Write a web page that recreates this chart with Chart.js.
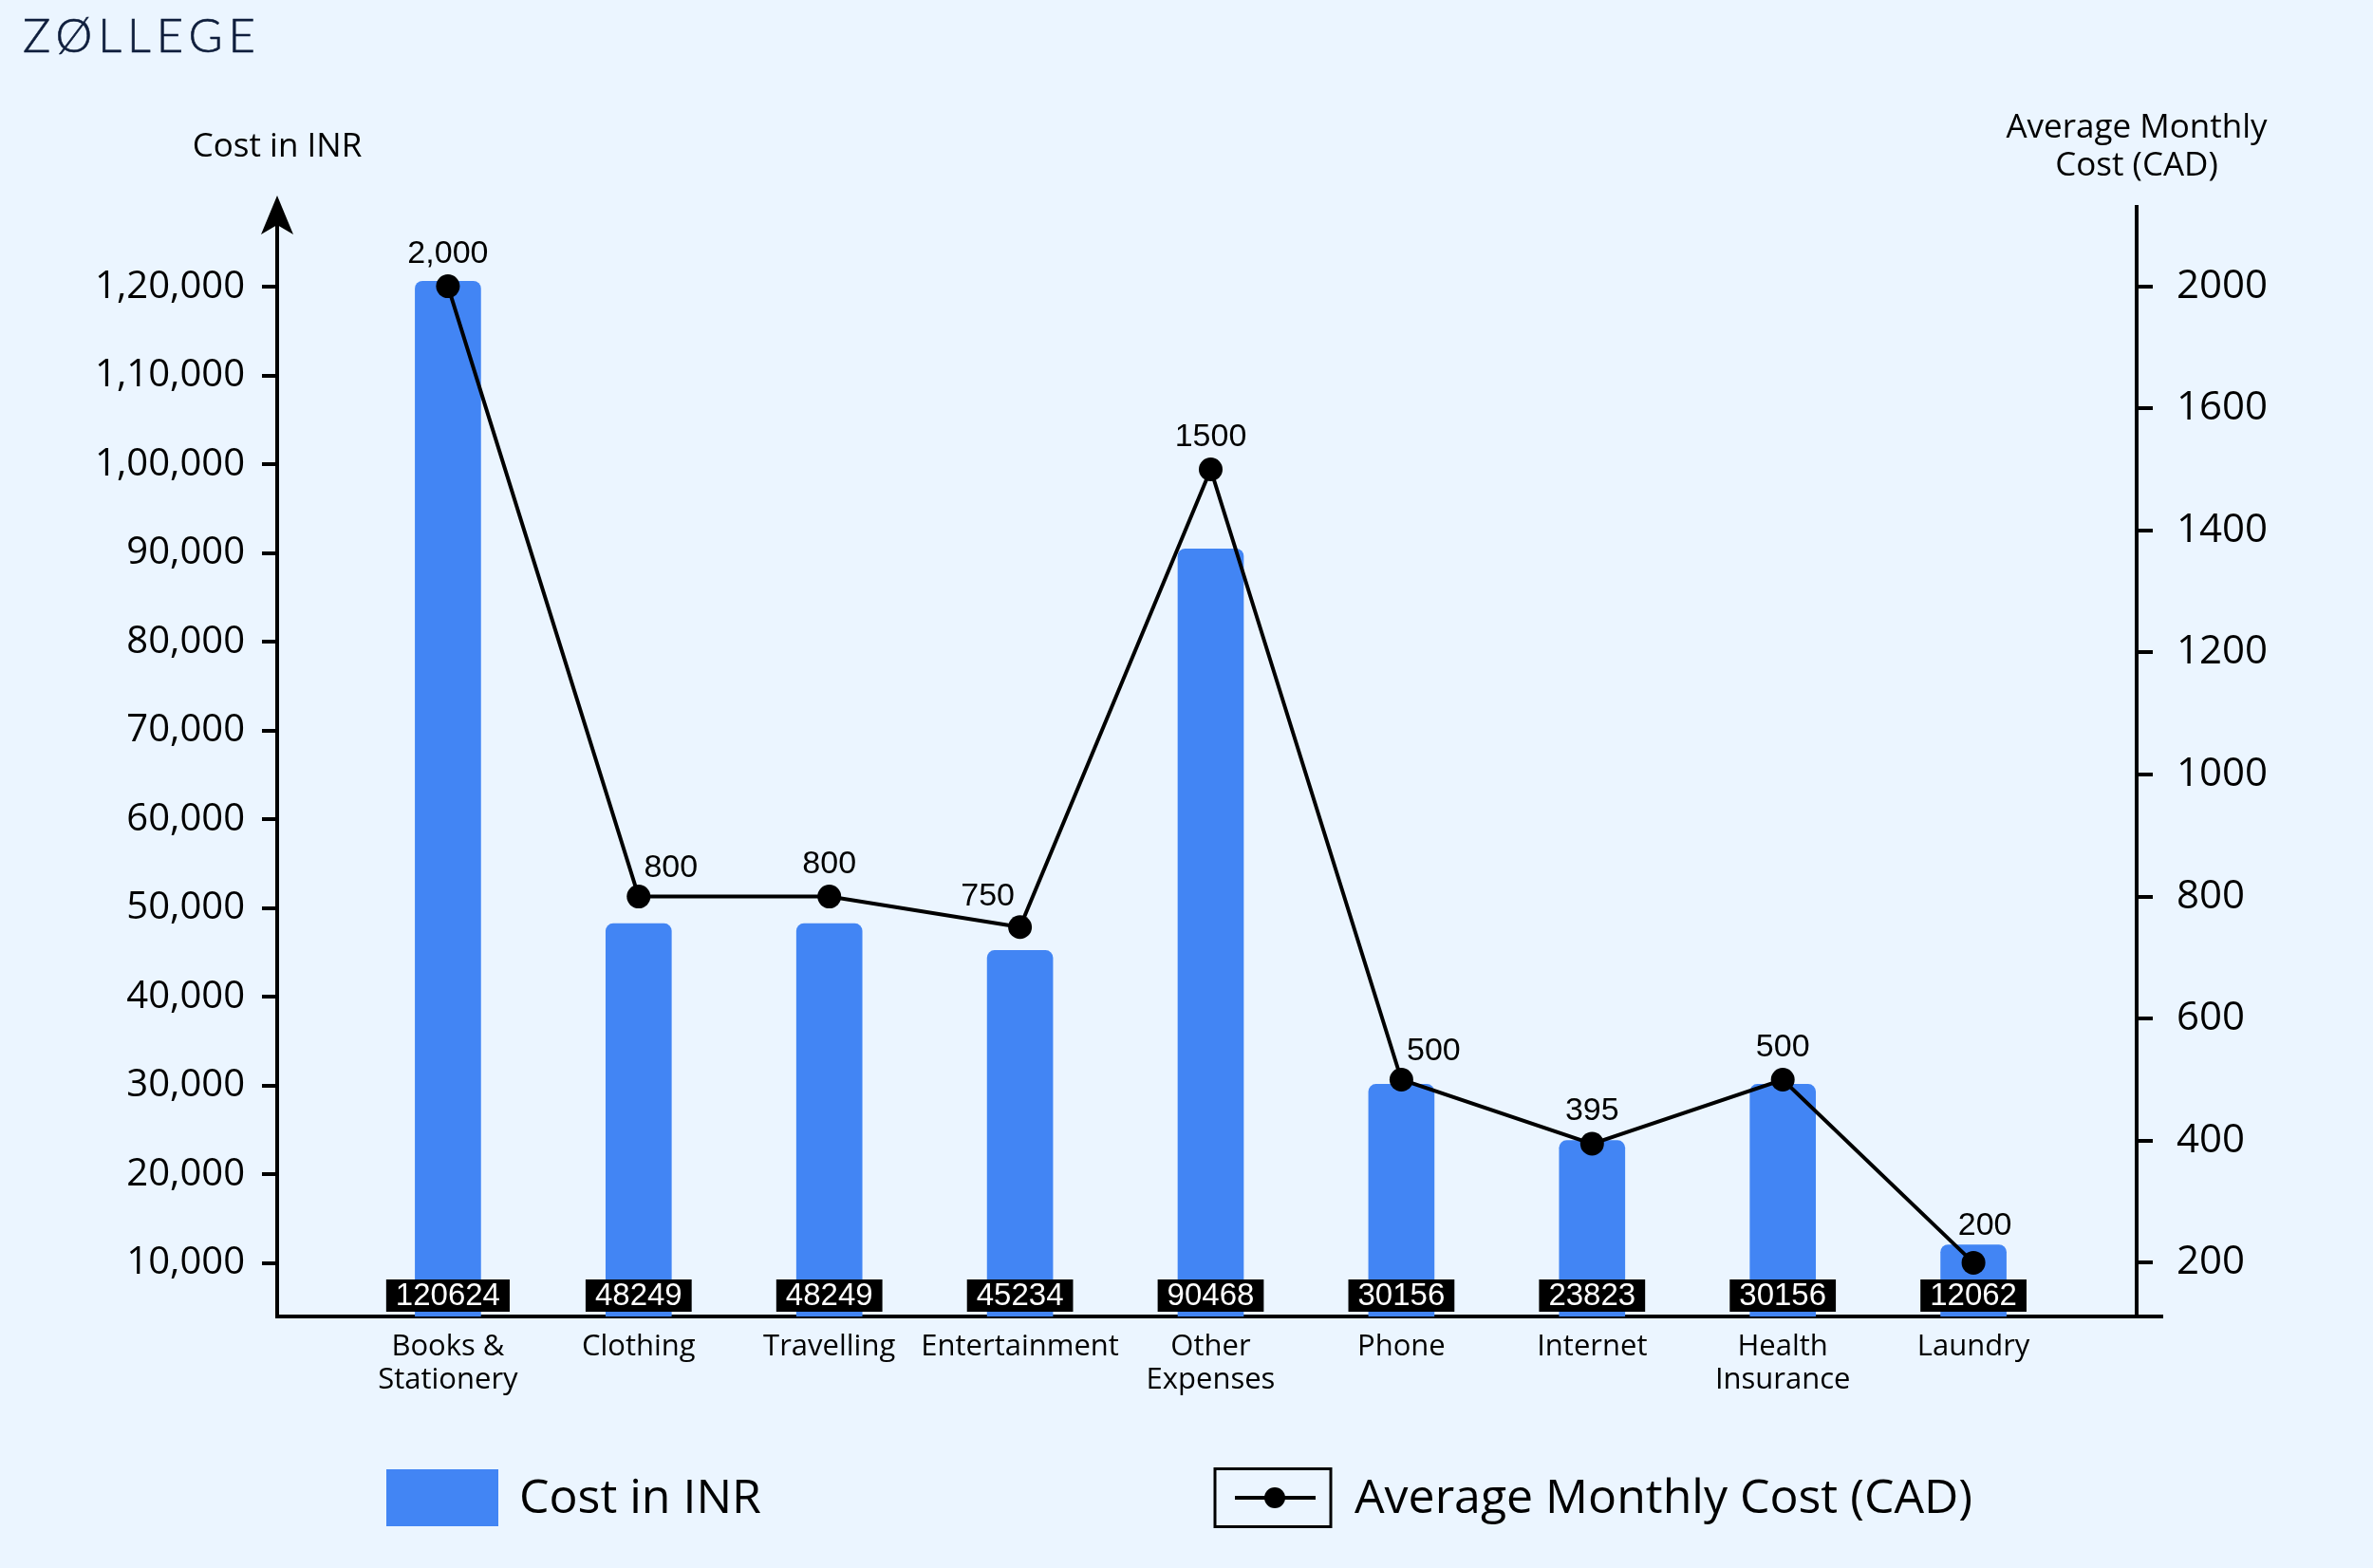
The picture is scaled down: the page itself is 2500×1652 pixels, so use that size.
<!DOCTYPE html>
<html><head><meta charset="utf-8">
<script src="https://cdn.jsdelivr.net/npm/chart.js@4.4.1/dist/chart.umd.min.js"></script>
<style>
html,body{margin:0;padding:0;background:#EBF5FF;}
#wrap{position:relative;width:2500px;height:1652px;overflow:hidden;}
canvas{position:absolute;left:0;top:0;}
#logo{position:absolute;left:24px;top:12px;font-family:Lato,'Open Sans',sans-serif;font-weight:300;font-size:49px;letter-spacing:6px;color:#0F1E3C;line-height:1;white-space:nowrap;-webkit-text-stroke:0.6px #0F1E3C;}
</style></head><body>
<div id="wrap"><canvas id="c" width="2500" height="1652"></canvas><div id="logo">ZØLLEGE</div></div>
<script>
// ---- data ----
const categories = [["Books &","Stationery"],"Clothing","Travelling","Entertainment",["Other","Expenses"],"Phone","Internet",["Health","Insurance"],"Laundry"];
const costInr = [120624,48249,48249,45234,90468,30156,23823,30156,12062];
const avgMonthlyCad = [2000,800,800,750,1500,500,395,500,200];
const cadPointLabels = ["2,000","800","800","750","1500","500","395","500","200"];
const inrTicks = [10000,20000,30000,40000,50000,60000,70000,80000,90000,100000,110000,120000];
const cadTicks = [200,400,600,800,1000,1200,1400,1600,2000];
const seriesNames = ["Cost in INR","Average Monthly Cost (CAD)"];

// ---- helpers ----
function indianFormat(n){
  const s = String(Math.round(n));
  if (s.length <= 3) return s;
  const last3 = s.slice(-3);
  let rest = s.slice(0,-3);
  const parts = [];
  while (rest.length > 2){ parts.unshift(rest.slice(-2)); rest = rest.slice(0,-2); }
  if (rest.length) parts.unshift(rest);
  return parts.join(',') + ',' + last3;
}

// right axis in the reference is compressed above 1600 (1600 -> 2000 shares one step)
const BREAK = 1600;
class BrokenLinearScale extends Chart.LinearScale {
  getPixelForValue(value){
    const v = value > BREAK ? BREAK + (value - BREAK) / 2 : value;
    return super.getPixelForValue(v);
  }
  getValueForPixel(pixel){
    const v = super.getValueForPixel(pixel);
    return v > BREAK ? BREAK + (v - BREAK) * 2 : v;
  }
}
BrokenLinearScale.id = 'brokenLinear';
BrokenLinearScale.defaults = Chart.LinearScale.defaults;
Chart.register(BrokenLinearScale);

const FONT = "'Open Sans', 'Noto Sans', sans-serif";
const NUMFONT = "'Liberation Sans', Arial, sans-serif";
const BAR_COLOR = '#4285F4';

const decor = {
  id: 'decor',
  beforeDraw(chart){
    const {ctx, width, height} = chart;
    ctx.save(); ctx.fillStyle = '#EBF5FF'; ctx.fillRect(0,0,width,height); ctx.restore();
  },
  afterDatasetsDraw(chart, args, opts){
    const ctx = chart.ctx;
    const area = chart.chartArea;
    // bar value boxes
    const barMeta = chart.getDatasetMeta(0);
    ctx.save();
    ctx.font = "33px " + NUMFONT;
    ctx.textAlign = 'center'; ctx.textBaseline = 'middle';
    barMeta.data.forEach((el, i) => {
      const txt = String(chart.data.datasets[0].data[i].y);
      const w = ctx.measureText(txt).width + 20;
      const cy = area.bottom - 22;
      ctx.fillStyle = '#000';
      ctx.fillRect(el.x - w/2, cy - 17, w, 34);
      ctx.fillStyle = '#fff';
      ctx.fillText(txt, el.x, cy + 1);
    });
    // line point labels
    const lineMeta = chart.getDatasetMeta(1);
    ctx.font = "34px " + NUMFONT;
    ctx.fillStyle = '#000';
    lineMeta.data.forEach((el, i) => {
      const p = opts.placements[i] || 'top';
      const off = opts.offsets[p];
      ctx.fillText(cadPointLabels[i], el.x + off[0], el.y + off[1]);
    });
    ctx.restore();
  },
  afterDraw(chart){
    const ctx = chart.ctx;
    const a = chart.chartArea;
    ctx.save();
    // arrow on left axis
    ctx.fillStyle = '#000';
    ctx.beginPath();
    ctx.moveTo(a.left, a.top - 12);
    ctx.lineTo(a.left + 17, a.top + 29);
    ctx.lineTo(a.left, a.top + 19);
    ctx.lineTo(a.left - 17, a.top + 29);
    ctx.closePath(); ctx.fill();
    ctx.fillRect(a.left - 2, a.top - 2, 4, 30);
    // x axis extension beyond right axis
    ctx.strokeStyle = '#000'; ctx.lineWidth = 4;
    ctx.beginPath(); ctx.moveTo(a.right, a.bottom); ctx.lineTo(a.right + 28, a.bottom); ctx.stroke();
    // axis titles
    ctx.fillStyle = '#000';
    ctx.textAlign = 'center'; ctx.textBaseline = 'middle';
    ctx.font = "500 35px " + FONT;
    ctx.fillText(seriesNames[0], a.left, a.top - 63);
    ctx.fillText('Average Monthly', a.right, a.top - 83);
    ctx.fillText('Cost (CAD)', a.right, a.top - 43);
    // legend
    const ly = 1578;
    ctx.fillStyle = chart.data.datasets[0].backgroundColor;
    ctx.fillRect(407, 1548, 118, 60);
    ctx.fillStyle = '#000';
    ctx.textAlign = 'left';
    ctx.font = "500 50px " + FONT;
    ctx.fillText(chart.data.datasets[0].label, 547, ly + 2);
    ctx.strokeStyle = '#000'; ctx.lineWidth = 3;
    ctx.strokeRect(1280, 1547.5, 122, 61);
    ctx.lineWidth = 4;
    ctx.beginPath(); ctx.moveTo(1301, ly); ctx.lineTo(1386, ly); ctx.stroke();
    ctx.beginPath(); ctx.arc(1343, ly, 11, 0, Math.PI*2); ctx.fill();
    ctx.fillText(chart.data.datasets[1].label, 1427, ly + 2);
    ctx.restore();
  }
};

new Chart(document.getElementById('c'), {
  type: 'bar',
  data: {
    datasets: [
      {
        type: 'bar',
        label: seriesNames[0],
        data: costInr.map((v,i) => ({x: i, y: v})),
        backgroundColor: BAR_COLOR,
        borderRadius: {topLeft: 8, topRight: 8, bottomLeft: 0, bottomRight: 0},
        borderSkipped: 'start',
        barThickness: 69,
        xAxisID: 'x', yAxisID: 'y',
        order: 2
      },
      {
        type: 'line',
        label: seriesNames[1],
        data: avgMonthlyCad.map((v,i) => ({x: i, y: v})),
        borderColor: '#000',
        backgroundColor: '#000',
        borderWidth: 4,
        pointRadius: 12.5,
        pointBackgroundColor: '#000',
        pointBorderWidth: 0,
        tension: 0,
        xAxisID: 'x', yAxisID: 'y1',
        order: 1
      }
    ]
  },
  options: {
    responsive: false,
    animation: false,
    devicePixelRatio: 1,
    layout: { padding: { top: 218, left: 0, right: 0, bottom: 0 } },
    plugins: {
      legend: { display: false },
      tooltip: { enabled: false },
      decor: {
        placements: ['top','right','top','left','top','right','top','top','topright'],
        offsets: { top: [0,-34], right: [34,-30], left: [-34,-32], topright: [12,-39] }
      }
    },
    scales: {
      x: {
        type: 'linear',
        position: 'bottom',
        min: -0.8955,
        max: 8.8557,
        offset: false,
        grid: { display: false, offset: false },
        border: { display: true, color: '#000', width: 4 },
        afterBuildTicks: s => { s.ticks = categories.map((c,i) => ({value: i})); },
        afterFit: s => { s.height = 265; },
        ticks: {
          autoSkip: false, maxRotation: 0, minRotation: 0,
          padding: 6,
          color: '#000',
          font: { family: FONT, size: 31, weight: '500', lineHeight: 1.15 },
          callback: v => categories[v]
        }
      },
      y: {
        type: 'linear',
        position: 'left',
        min: 4000,
        max: 129000,
        afterBuildTicks: s => { s.ticks = inrTicks.map(v => ({value: v})); },
        afterFit: s => { s.width = 292; },
        grid: { display: true, drawOnChartArea: false, drawTicks: true, tickLength: 16, color: '#000', lineWidth: 4 },
        border: { display: true, color: '#000', width: 4 },
        ticks: { padding: 18, color: '#000', font: { family: FONT, size: 40, weight: '500' }, callback: v => indianFormat(v) }
      },
      y1: {
        type: 'brokenLinear',
        position: 'right',
        min: 112,
        max: 1930,
        afterBuildTicks: s => { s.ticks = cadTicks.map(v => ({value: v})); },
        afterFit: s => { s.width = 249; },
        grid: { display: true, drawOnChartArea: false, drawTicks: true, tickLength: 17, color: '#000', lineWidth: 4 },
        border: { display: true, color: '#000', width: 4 },
        ticks: { padding: 25, color: '#000', font: { family: FONT, size: 42, weight: '500' }, callback: v => String(v) }
      }
    }
  },
  plugins: [decor]
});
</script>
</body></html>
